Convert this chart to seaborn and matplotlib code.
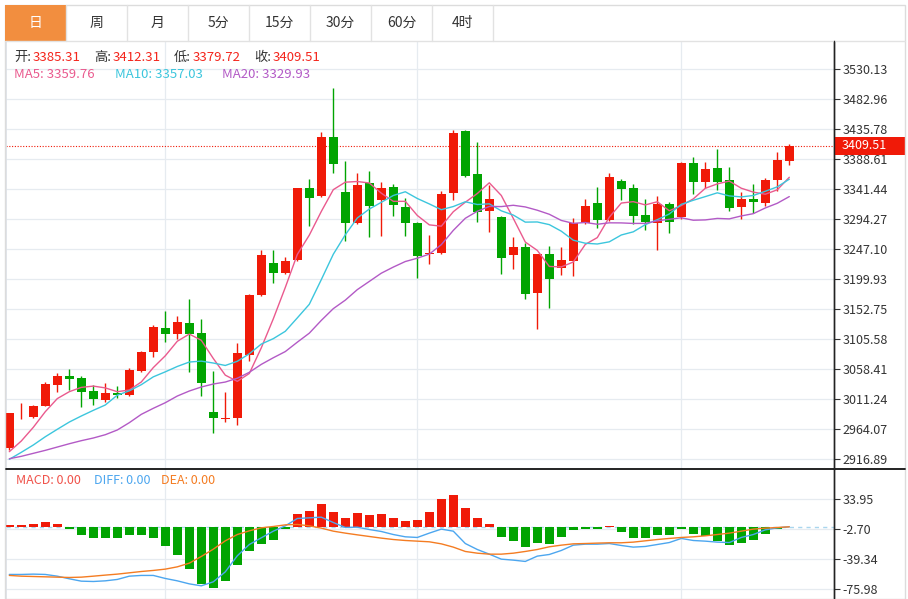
import numpy as np
import pandas as pd
import matplotlib
matplotlib.use("Agg")
import matplotlib.pyplot as plt
import matplotlib.transforms as mtransforms
from matplotlib.patches import Rectangle
from matplotlib.lines import Line2D
import seaborn as sns

# daily candles
opens = [2933.7, 2987.0, 2982.5, 3000.2, 3033.3, 3047.9, 3044.3, 3023.8, 3009.7, 3020.2,
         3017.5, 3055.3, 3085.6, 3123.4, 3113.0, 3131.2, 3114.5, 2991.3, 2980.5, 2981.9,
         3080.4, 3174.8, 3225.6, 3209.8, 3229.8, 3342.5, 3330.9, 3423.7, 3336.2, 3287.5,
         3350.4, 3324.2, 3344.1, 3313.6, 3287.5, 3238.8, 3240.3, 3334.7, 3433.1, 3364.5,
         3306.8, 3297.9, 3237.7, 3249.8, 3178.4, 3239.2, 3216.7, 3228.7, 3287.5, 3319.0,
         3292.7, 3354.0, 3342.5, 3300.6, 3287.5, 3317.9, 3296.9, 3381.8, 3352.9, 3374.0,
         3355.6, 3313.6, 3325.7, 3319.9, 3355.6, 3385.31]
highs = [2988.8, 3004.5, 3002.3, 3038.0, 3051.7, 3057.9, 3047.4, 3033.3, 3035.9, 3031.7,
         3059.5, 3087.2, 3127.6, 3149.6, 3141.8, 3168.0, 3136.6, 3055.3, 3022.7, 3098.8,
         3176.0, 3245.5, 3245.5, 3234.0, 3343.0, 3357.6, 3430.6, 3499.8, 3385.9, 3367.1,
         3370.2, 3352.9, 3348.8, 3326.8, 3290.0, 3269.1, 3338.3, 3434.2, 3434.2, 3414.9,
         3347.7, 3299.0, 3265.5, 3257.0, 3240.0, 3252.3, 3249.8, 3295.4, 3325.2, 3345.1,
         3366.1, 3357.2, 3349.3, 3325.2, 3330.9, 3321.5, 3383.9, 3392.2, 3384.4, 3403.9,
         3375.6, 3337.2, 3349.3, 3359.2, 3400.1, 3412.31]
lows = [2931.0, 2979.3, 2982.0, 3000.0, 3022.7, 3025.4, 2999.1, 3001.8, 3007.0, 3012.4,
        3016.0, 3054.0, 3076.8, 3101.3, 3105.1, 3054.2, 3016.0, 2957.3, 2975.6, 2970.4,
        3071.0, 3173.0, 3194.1, 3208.0, 3228.0, 3283.7, 3329.0, 3367.1, 3260.1, 3286.0,
        3265.5, 3268.0, 3299.5, 3268.0, 3202.0, 3223.0, 3239.0, 3324.2, 3361.0, 3289.1,
        3274.3, 3207.8, 3215.7, 3168.0, 3120.8, 3154.8, 3206.2, 3204.6, 3286.0, 3279.6,
        3291.0, 3324.2, 3285.9, 3277.0, 3245.5, 3271.8, 3295.0, 3333.1, 3343.5, 3339.9,
        3307.3, 3293.8, 3303.2, 3314.7, 3338.8, 3379.72]
closes = [2988.8, 2988.0, 3000.7, 3034.4, 3047.4, 3043.2, 3021.8, 3010.8, 3020.2, 3017.5,
          3056.8, 3084.7, 3124.0, 3113.0, 3131.8, 3113.0, 3035.9, 2980.9, 2982.0, 3083.1,
          3174.8, 3237.7, 3208.9, 3228.7, 3342.5, 3326.8, 3423.7, 3380.3, 3287.5, 3347.7,
          3315.2, 3343.5, 3316.3, 3287.5, 3236.6, 3241.3, 3333.1, 3430.0, 3362.3, 3304.8,
          3325.7, 3233.4, 3249.8, 3176.3, 3239.2, 3199.5, 3229.8, 3288.4, 3314.7, 3292.7,
          3359.8, 3341.0, 3299.5, 3289.1, 3317.4, 3289.1, 3381.8, 3352.0, 3372.4, 3352.0,
          3311.1, 3325.7, 3321.5, 3355.6, 3387.0, 3409.51]

# moving average values before a full window is available
ma5_head = [2928.4, 2945.2, 2966.7, 2991.3]
ma10_head = [2916.4, 2927.4, 2938.9, 2951.9, 2963.6, 2975.0, 2984.5, 2993.4, 3001.8]
ma20_head = [2917.3, 2921.1, 2925.8, 2930.5, 2935.7, 2940.9, 2945.7, 2949.9, 2955.1, 2962.5,
             2974.0, 2987.1, 2996.6, 3005.4, 3015.9, 3023.8, 3030.1, 3034.8, 3037.9]

# MACD panel
macd = [2.4, 2.4, 4.1, 5.7, 3.3, -2.4, -9.4, -13.0, -13.4, -13.4,
        -10.2, -10.2, -13.0, -23.2, -34.2, -51.3, -69.2, -74.9, -66.4, -46.0,
        -29.3, -20.4, -15.9, -2.4, 15.5, 20.0, 27.7, 18.7, 11.4, 17.5,
        14.3, 15.5, 10.6, 6.9, 8.1, 18.7, 34.6, 38.7, 23.6, 11.0,
        3.3, -12.6, -17.1, -24.4, -19.1, -20.8, -12.6, -3.7, -2.0, -2.4,
        0.8, -6.5, -13.4, -13.4, -10.2, -9.8, -2.4, -8.1, -10.6, -17.1,
        -22.0, -19.1, -15.9, -8.6, -2.4, -0.4]
diff = [-58.0, -58.0, -57.6, -58.0, -60.1, -63.3, -66.2, -66.6, -65.8, -64.1,
        -60.1, -59.2, -59.2, -62.9, -65.8, -69.5, -71.9, -67.0, -54.8, -35.2,
        -21.4, -13.2, -5.1, 1.4, 10.4, 11.2, 12.0, 5.5, -0.6, -0.2,
        -3.1, -5.5, -9.2, -12.0, -12.8, -7.5, -2.6, -5.1, -20.2, -27.5,
        -33.2, -39.3, -40.5, -42.1, -35.6, -33.6, -28.7, -22.2, -21.0, -21.0,
        -20.2, -22.6, -24.6, -23.8, -21.4, -19.0, -14.0, -16.5, -17.3, -18.5,
        -19.0, -12.8, -9.2, -3.5, -1.0, 0.2]
dea = [-59.2, -60.1, -60.5, -60.9, -61.3, -61.7, -61.3, -60.1, -58.8, -57.6,
       -56.0, -54.4, -53.1, -51.5, -48.7, -44.2, -36.0, -27.1, -16.9, -9.2,
       -4.7, -1.0, 0.6, 2.6, 3.1, 1.4, -1.4, -5.1, -7.5, -9.6,
       -11.6, -13.6, -15.3, -16.5, -17.3, -18.1, -20.6, -24.6, -29.9, -32.0,
       -33.2, -33.2, -32.0, -29.9, -27.5, -24.2, -22.2, -20.6, -20.2, -19.7,
       -19.3, -19.3, -18.5, -16.9, -15.3, -14.0, -12.8, -12.0, -10.8, -9.2,
       -7.5, -5.1, -2.6, -1.4, -0.6, 0.2]

price_ticks = [3530.13, 3482.96, 3435.78, 3388.61, 3341.44, 3294.27, 3247.10,
               3199.93, 3152.75, 3105.58, 3058.41, 3011.24, 2964.07, 2916.89]
macd_ticks = [33.95, -2.70, -39.34, -75.98]
month_lines = [13, 34, 56]
tabs = ['日', '周', '月', '5分', '15分', '30分', '60分', '4时']

RED = '#f01a08'
GREEN = '#01a401'
GRID = '#e6ebf0'

df = pd.DataFrame({'open': opens, 'high': highs, 'low': lows, 'close': closes,
                   'macd': macd, 'diff': diff, 'dea': dea})
df['x'] = np.arange(len(df))
df['ma5'] = df['close'].rolling(5).mean()
df['ma10'] = df['close'].rolling(10).mean()
df['ma20'] = df['close'].rolling(20).mean()
df.loc[:len(ma5_head) - 1, 'ma5'] = ma5_head
df.loc[:len(ma10_head) - 1, 'ma10'] = ma10_head
df.loc[:len(ma20_head) - 1, 'ma20'] = ma20_head

sns.set_theme(style="white")
plt.rcParams['font.family'] = ['Noto Sans CJK SC', 'DejaVu Sans']

W, H = 908, 599
fig = plt.figure(figsize=(W / 100, H / 100), dpi=100)


def fx(px):
    return px / W


def fy(py):
    return 1 - py / H


ax = fig.add_axes([fx(5.5), fy(469.3), fx(834) - fx(5.5), fy(40.7) - fy(469.3)])
ax2 = fig.add_axes([fx(5.5), 0, fx(834) - fx(5.5), fy(469.3)])

# candles
up = df['close'] >= df['open']
col = np.where(up, RED, GREEN)
ax.vlines(df['x'], df['low'], df['high'], colors=col, lw=1.0, zorder=3)
body = np.maximum((df['close'] - df['open']).abs(), 1.4)
ax.bar(df['x'], body, bottom=np.minimum(df['open'], df['close']), width=0.72,
       color=col, linewidth=0, zorder=4)

sns.lineplot(data=df, x='x', y='ma5', ax=ax, color='#ea5a8e', lw=1.0, zorder=5)
sns.lineplot(data=df, x='x', y='ma10', ax=ax, color='#3cc6dd', lw=1.0, zorder=5)
sns.lineplot(data=df, x='x', y='ma20', ax=ax, color='#b35ac6', lw=1.0, zorder=5)

last = closes[-1]
ax.axhline(last, color=RED, ls=(0, (1, 1.5)), lw=0.8, zorder=2)

ax.set_xlim(-0.317, 68.725)
ax.set_ylim(2900.7, 3574.6)
ax.set_xticks(month_lines)
ax.set_yticks(price_ticks)
ax.set_yticklabels([f'{v:.2f}' for v in price_ticks])
ax.yaxis.tick_right()
ax.tick_params(axis='x', length=0, labelbottom=False)
ax.tick_params(axis='y', length=4, width=0.8, color='#333333', labelsize=9,
               labelcolor='#333333', pad=2)
ax.grid(True, color=GRID, lw=0.9)
ax.set_xlabel('')
ax.set_ylabel('')

# last price tag
trans = mtransforms.blended_transform_factory(ax.transAxes, ax.transData)
ax.add_patch(Rectangle((1.0, last - 14.2), 0.0857, 28.4, transform=trans,
                       facecolor=RED, edgecolor='none', clip_on=False, zorder=10))
ax.text(1.0097, last, f'{last:.2f}', transform=trans, color='white', fontsize=9,
        va='center', ha='left', clip_on=False, zorder=11)

# MACD
ax2.bar(df['x'], df['macd'], width=0.72, color=np.where(df['macd'] >= 0, RED, GREEN),
        linewidth=0, zorder=3)
ax2.axhline(0, color='#a9d6ee', ls=(0, (3, 3)), lw=1.0, zorder=2)
sns.lineplot(data=df, x='x', y='diff', ax=ax2, color='#4ca6ef', lw=1.0, zorder=5)
sns.lineplot(data=df, x='x', y='dea', ax=ax2, color='#f47c22', lw=1.0, zorder=5)
ax2.set_xlim(-0.317, 68.725)
ax2.set_ylim(-88.0, 70.5)
ax2.set_xticks(month_lines)
ax2.set_yticks(macd_ticks)
ax2.set_yticklabels([f'{v:.2f}' for v in macd_ticks])
ax2.yaxis.tick_right()
ax2.tick_params(axis='x', length=0, labelbottom=False)
ax2.tick_params(axis='y', length=4, width=0.8, color='#333333', labelsize=9,
                labelcolor='#333333', pad=2)
ax2.grid(True, color=GRID, lw=0.9)
ax2.set_xlabel('')
ax2.set_ylabel('')

for a in (ax, ax2):
    a.set_facecolor('white')
    a.spines['top'].set_visible(False)
    a.spines['bottom'].set_visible(False)
    a.spines['left'].set_color('#dde2e8')
    a.spines['right'].set_color('#222222')
    a.spines['right'].set_linewidth(1.0)

# frame, separators and tabs
fig.patches.append(Rectangle((fx(5), fy(599)), fx(900), fy(5) - fy(599), transform=fig.transFigure,
                             fill=False, edgecolor='#dcdcdc', lw=1.0))
fig.lines.append(Line2D([fx(5), fx(905)], [fy(40.7), fy(40.7)], transform=fig.transFigure,
                        color='#e2e2e2', lw=1.0))
fig.lines.append(Line2D([fx(5.5), fx(905)], [fy(469.3), fy(469.3)], transform=fig.transFigure,
                        color='#111111', lw=1.3))
fig.lines.append(Line2D([fx(834), fx(834)], [fy(40.7), 0], transform=fig.transFigure,
                        color='#222222', lw=1.0))

tab_w = 61
for i, name in enumerate(tabs):
    x0 = 5 + i * tab_w
    if i == 0:
        fig.patches.append(Rectangle((fx(x0), fy(40.7)), fx(tab_w), fy(5) - fy(40.7),
                                     transform=fig.transFigure, facecolor='#f28e3f',
                                     edgecolor='none'))
    fig.lines.append(Line2D([fx(x0 + tab_w), fx(x0 + tab_w)], [fy(5), fy(40.7)],
                            transform=fig.transFigure, color='#e2e2e2', lw=1.0))
    fig.text(fx(x0 + tab_w / 2), fy(23), name, ha='center', va='center', fontsize=10,
             color='white' if i == 0 else '#333333')

# info rows
info = [('开:', '3385.31', 14), ('高:', '3412.31', 94), ('低:', '3379.72', 174), ('收:', '3409.51', 254)]
for lab, val, x0 in info:
    fig.text(fx(x0), fy(57.5), lab, color='#333333', fontsize=9.5, va='center')
    fig.text(fx(x0 + 18.5), fy(57.5), val, color='#f4251c', fontsize=9.5, va='center')

fig.text(fx(14), fy(75), 'MA5: 3359.76', color='#ea5a8e', fontsize=9.5, va='center')
fig.text(fx(115), fy(75), 'MA10: 3357.03', color='#3cc6dd', fontsize=9.5, va='center')
fig.text(fx(222.5), fy(75), 'MA20: 3329.93', color='#b35ac6', fontsize=9.5, va='center')

fig.text(fx(16), fy(480.5), 'MACD: 0.00', color='#f0524a', fontsize=9, va='center')
fig.text(fx(94), fy(480.5), 'DIFF: 0.00', color='#4ca6ef', fontsize=9, va='center')
fig.text(fx(161), fy(480.5), 'DEA: 0.00', color='#f47c22', fontsize=9, va='center')

fig.savefig('out.png', dpi=100, facecolor='white')
